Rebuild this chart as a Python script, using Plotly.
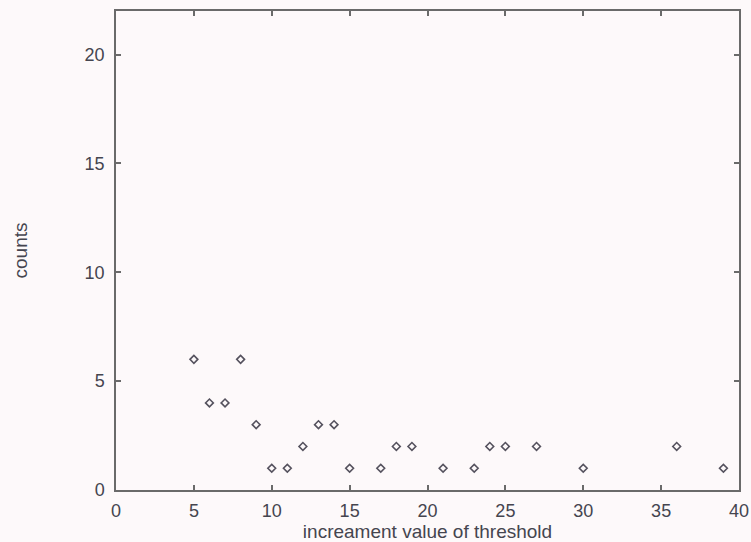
import plotly.graph_objects as go

threshold = [5, 6, 7, 8, 9, 10, 11, 12, 13, 14, 15, 17, 18, 19, 21, 23, 24, 25, 27, 30, 36, 39]
counts = [6, 4, 4, 6, 3, 1, 1, 2, 3, 3, 1, 1, 2, 2, 1, 1, 2, 2, 2, 1, 2, 1]
x_ticks = [0, 5, 10, 15, 20, 25, 30, 35, 40]
y_ticks = [0, 5, 10, 15, 20]

bg = "#fdf9fa"
axis_col = "#6a6a6a"
font = dict(family="Liberation Sans, Arial, sans-serif", size=18, color="#45454f")
title_font = dict(family="Liberation Sans, Arial, sans-serif", size=19, color="#45454f")

fig = go.Figure()
fig.add_trace(go.Scatter(
    x=threshold, y=counts, mode="markers",
    marker=dict(symbol="diamond-open", size=6, color="#55525e", line=dict(width=1.6, color="#55525e")),
    showlegend=False,
))

fig.update_layout(
    width=751, height=542,
    margin=dict(l=116, r=12, t=11, b=52),
    paper_bgcolor=bg, plot_bgcolor=bg,
    font=font,
)
fig.update_xaxes(
    range=[0, 40], tickvals=x_ticks, ticks="inside", ticklen=5, tickwidth=1.5, tickcolor=axis_col,
    showline=True, linecolor=axis_col, linewidth=1.5, mirror="ticks", showgrid=False, zeroline=False,
    ticklabelstandoff=4, automargin=False,
    title=dict(text="increament value of threshold", standoff=0, font=title_font),
)
fig.update_yaxes(
    range=[0, 22], tickvals=y_ticks, ticks="inside", ticklen=5, tickwidth=1.5, tickcolor=axis_col,
    showline=True, linecolor=axis_col, linewidth=1.5, mirror="ticks", showgrid=False, zeroline=False,
    ticklabelstandoff=6, automargin=False,
    title=dict(text="counts", standoff=52, font=title_font),
)

fig.write_html("out.html")
